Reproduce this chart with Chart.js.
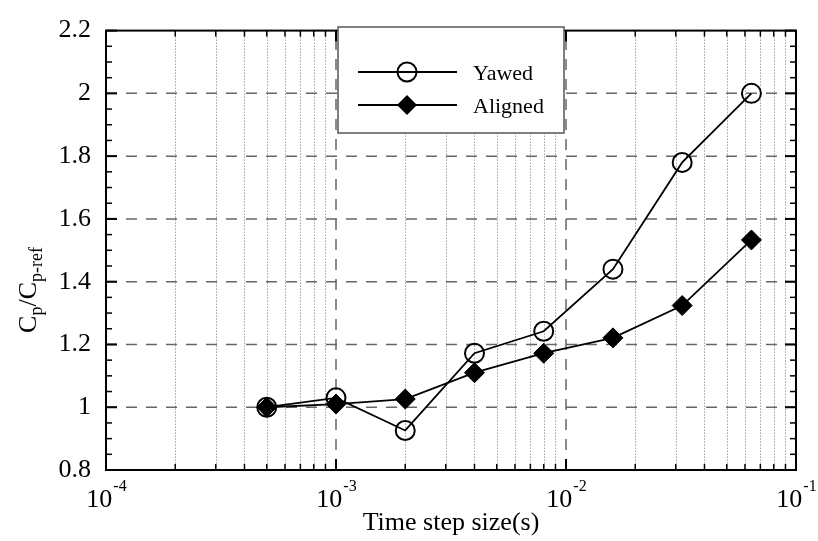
<!DOCTYPE html>
<html>
<head>
<meta charset="utf-8">
<script src="https://cdn.jsdelivr.net/npm/chart.js@4.4.0/dist/chart.umd.min.js"></script>
<style>
  html, body { margin: 0; padding: 0; background: #fff; }
  canvas { display: block; }
</style>
</head>
<body>
<canvas id="cpChart" width="818" height="541"></canvas>
<script>
const timeSteps = [0.0005, 0.001, 0.002, 0.004, 0.008, 0.016, 0.032, 0.064];
const yawed = [1.0, 1.03, 0.926, 1.172, 1.242, 1.44, 1.78, 2.0];
const aligned = [1.0, 1.01, 1.026, 1.11, 1.172, 1.221, 1.324, 1.533];
const seriesNames = ['Yawed', 'Aligned'];
const xDecades = [-4, -3, -2, -1];
const yTicks = [0.8, 1.0, 1.2, 1.4, 1.6, 1.8, 2.0, 2.2];

const serif = '"Liberation Serif", "Times New Roman", serif';

function toPoints(ys) {
    return timeSteps.map((x, i) => ({ x: x, y: ys[i] }));
}

function seg(ctx, x1, y1, x2, y2) {
    ctx.beginPath();
    ctx.moveTo(x1, y1);
    ctx.lineTo(x2, y2);
    ctx.stroke();
}

function circleMark(ctx, cx, cy) {
    ctx.save();
    ctx.setLineDash([]);
    ctx.lineWidth = 2;
    ctx.strokeStyle = '#000';
    ctx.beginPath();
    ctx.arc(cx, cy, 9.5, 0, Math.PI * 2);
    ctx.stroke();
    ctx.restore();
}

function diamondMark(ctx, cx, cy) {
    ctx.save();
    ctx.fillStyle = '#000';
    ctx.beginPath();
    ctx.moveTo(cx - 10, cy);
    ctx.lineTo(cx, cy - 10);
    ctx.lineTo(cx + 10, cy);
    ctx.lineTo(cx, cy + 10);
    ctx.closePath();
    ctx.fill();
    ctx.restore();
}

const framePlugin = {
    id: 'frame',
    beforeDatasetsDraw(chart) {
        const { ctx, chartArea: a, scales: { x, y } } = chart;
        ctx.save();
        // dotted minor decade lines
        ctx.lineWidth = 1;
        ctx.strokeStyle = '#6f6f6f';
        ctx.setLineDash([1, 2]);
        for (let d = xDecades[0]; d < xDecades[xDecades.length - 1]; d++) {
            for (let k = 2; k <= 9; k++) {
                const px = Math.round(x.getPixelForValue(k * Math.pow(10, d))) + 0.5;
                seg(ctx, px, a.top, px, a.bottom);
            }
        }
        // dashed major lines
        ctx.lineWidth = 1.5;
        ctx.strokeStyle = '#666';
        ctx.setLineDash([11, 9]);
        xDecades.slice(1, -1).forEach(d => {
            const px = x.getPixelForValue(Math.pow(10, d));
            seg(ctx, px, a.bottom, px, a.top);
        });
        yTicks.slice(1, -1).forEach(v => {
            const py = y.getPixelForValue(v);
            seg(ctx, a.left, py, a.right, py);
        });
        ctx.restore();
    },
    afterDraw(chart) {
        const { ctx, chartArea: a, scales: { x, y } } = chart;
        ctx.save();
        ctx.setLineDash([]);
        ctx.strokeStyle = '#000';

        // ticks on all four sides
        ctx.lineWidth = 2;
        yTicks.forEach(v => {
            const py = y.getPixelForValue(v);
            seg(ctx, a.left, py, a.left + 11, py);
            seg(ctx, a.right, py, a.right - 11, py);
        });
        ctx.lineWidth = 1.5;
        for (let i = 0; i < 28; i++) {
            const v = 0.85 + i * 0.05;
            if (Math.abs(Math.round(v * 5) - v * 5) < 1e-6) continue;
            const py = y.getPixelForValue(v);
            seg(ctx, a.left, py, a.left + 6, py);
            seg(ctx, a.right, py, a.right - 6, py);
        }
        xDecades.forEach(d => {
            const px = x.getPixelForValue(Math.pow(10, d));
            ctx.lineWidth = 2;
            seg(ctx, px, a.bottom, px, a.bottom - 11);
            seg(ctx, px, a.top, px, a.top + 11);
            if (d === xDecades[xDecades.length - 1]) return;
            ctx.lineWidth = 1.5;
            for (let k = 2; k <= 9; k++) {
                const pk = x.getPixelForValue(k * Math.pow(10, d));
                seg(ctx, pk, a.bottom, pk, a.bottom - 6);
                seg(ctx, pk, a.top, pk, a.top + 6);
            }
        });

        // frame
        ctx.lineWidth = 2;
        ctx.strokeRect(a.left, a.top, a.right - a.left, a.bottom - a.top);

        // x tick labels 10^n
        ctx.fillStyle = '#000';
        ctx.textBaseline = 'alphabetic';
        ctx.textAlign = 'left';
        xDecades.forEach(d => {
            const px = x.getPixelForValue(Math.pow(10, d));
            ctx.font = '26px ' + serif;
            const w1 = ctx.measureText('10').width;
            ctx.font = '16px ' + serif;
            const sup = '-' + Math.abs(d);
            const w2 = ctx.measureText(sup).width;
            const left = px - (w1 + w2) / 2;
            ctx.font = '26px ' + serif;
            ctx.fillText('10', left, 507);
            ctx.font = '16px ' + serif;
            ctx.fillText(sup, left + w1 + 1, 491);
        });

        // x title
        ctx.font = '26px ' + serif;
        ctx.textAlign = 'center';
        ctx.fillText('Time step size(s)', (a.left + a.right) / 2, 530);

        // y title C_p / C_p-ref
        const parts = [
            { t: 'C', size: 26, dy: 0 },
            { t: 'p', size: 18, dy: 6 },
            { t: '/C', size: 26, dy: 0 },
            { t: 'p-ref', size: 18, dy: 6 }
        ];
        let total = 0;
        parts.forEach(p => {
            ctx.font = p.size + 'px ' + serif;
            p.w = ctx.measureText(p.t).width;
            total += p.w;
        });
        ctx.save();
        ctx.translate(36, 290);
        ctx.rotate(-Math.PI / 2);
        ctx.textAlign = 'left';
        let cx = -total / 2;
        parts.forEach(p => {
            ctx.font = p.size + 'px ' + serif;
            ctx.fillText(p.t, cx, p.dy);
            cx += p.w;
        });
        ctx.restore();

        // legend box
        ctx.fillStyle = '#fff';
        ctx.fillRect(338, 27, 226, 106);
        ctx.strokeStyle = '#555';
        ctx.lineWidth = 1.5;
        ctx.strokeRect(338, 27, 226, 106);
        ctx.strokeStyle = '#000';
        ctx.lineWidth = 2;
        const rows = [72, 105];
        rows.forEach((ry, i) => {
            seg(ctx, 358, ry, 457, ry);
            if (i === 0) circleMark(ctx, 407, ry);
            else diamondMark(ctx, 407, ry);
            ctx.fillStyle = '#000';
            ctx.font = '22px ' + serif;
            ctx.textAlign = 'left';
            ctx.fillText(seriesNames[i], 473, ry + 7.5);
        });
        ctx.restore();
    }
};

new Chart(document.getElementById('cpChart'), {
    type: 'line',
    data: {
        datasets: [{
            label: seriesNames[0],
            data: toPoints(yawed),
            borderColor: '#000',
            borderWidth: 1.8,
            pointStyle: 'circle',
            pointRadius: 9.5,
            pointBorderWidth: 2,
            pointBorderColor: '#000',
            pointBackgroundColor: 'rgba(0,0,0,0)',
            order: 1
        }, {
            label: seriesNames[1],
            data: toPoints(aligned),
            borderColor: '#000',
            borderWidth: 1.8,
            pointStyle: 'rectRot',
            pointRadius: 10,
            pointBorderWidth: 1,
            pointBorderColor: '#000',
            pointBackgroundColor: '#000',
            order: 0
        }]
    },
    options: {
        responsive: false,
        animation: false,
        devicePixelRatio: 1,
        layout: { padding: { left: 0, right: 22, top: 15, bottom: 0 } },
        plugins: {
            legend: { display: false },
            tooltip: { enabled: false }
        },
        scales: {
            x: {
                type: 'logarithmic',
                min: 1e-4,
                max: 1e-1,
                grid: { display: false, drawTicks: false },
                border: { display: false },
                ticks: { display: false },
                afterFit: s => { s.height = 71; }
            },
            y: {
                min: 0.8,
                max: 2.2,
                grid: { display: false, drawTicks: false },
                border: { display: false },
                afterBuildTicks: s => { s.ticks = yTicks.map(v => ({ value: v })); },
                ticks: {
                    padding: 15,
                    color: '#000',
                    font: { family: serif, size: 26 },
                    callback: v => String(+(+v).toFixed(1))
                },
                afterFit: s => { s.width = 106; }
            }
        }
    },
    plugins: [framePlugin]
});
</script>
</body>
</html>
